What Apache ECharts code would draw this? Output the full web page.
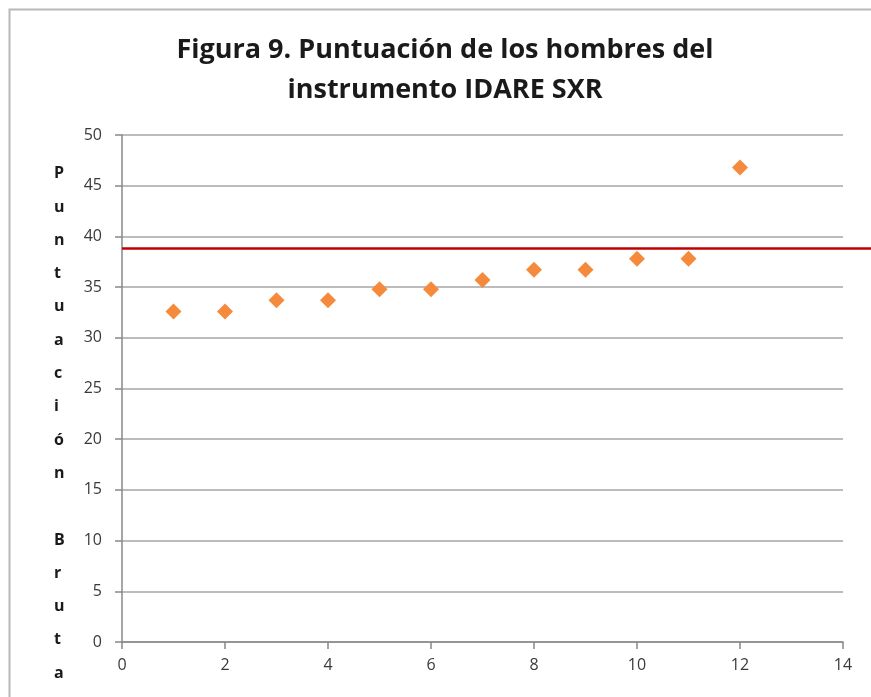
<!DOCTYPE html>
<html><head><meta charset="utf-8">
<script src="https://cdn.jsdelivr.net/npm/echarts@6/dist/echarts.min.js"></script>
<style>html,body{margin:0;padding:0;background:#fff}#c{width:871px;height:697px}</style>
</head><body><div id="c"></div>
<script>
const titleLines = ['Figura 9. Puntuación de los hombres del', 'instrumento IDARE SXR'];
const yAxisTitle = 'Puntuación Bruta';
const xValues = [1, 2, 3, 4, 5, 6, 7, 8, 9, 10, 11, 12];
const yValues = [32.6, 32.6, 33.7, 33.7, 34.8, 34.8, 35.7, 36.7, 36.7, 37.8, 37.8, 46.8];
const referenceValue = 38.8;

const chart = echarts.init(document.getElementById('c'), null, {renderer: 'canvas'});
const font = 'Open Sans';
const labelColor = '#3a3a3a';
chart.setOption({
  animation: false,
  backgroundColor: '#fff',
  graphic: [
    {type: 'rect', left: 7, top: 7, shape: {width: 900, height: 720}, style: {fill: 'none', stroke: '#b8b8b8', lineWidth: 2}},
    {type: 'text', x: 445, y: 30, style: {text: titleLines.join('\n'), align: 'center', verticalAlign: 'top',
      fontFamily: font, fontWeight: 'bold', fontSize: 27, lineHeight: 40, fill: '#1a1a1a'}}
  ],
  title: [
    {text: yAxisTitle.split('').join('\n'), left: 49, top: 152,
     textStyle: {fontFamily: font, fontWeight: 'bold', fontSize: 16, lineHeight: 33.3, color: '#1a1a1a'}}
  ],
  grid: [
    {left: 122, right: 28, top: 135, bottom: 55},
    {left: 122, right: 0, top: 135, bottom: 55}
  ],
  xAxis: [
    {type: 'value', gridIndex: 0, min: 0, max: 14, interval: 2,
     axisLine: {show: true, lineStyle: {color: '#888', width: 1.5}},
     axisTick: {show: true, length: 7, lineStyle: {color: '#888', width: 1.5}},
     axisLabel: {fontFamily: font, fontSize: 16, color: labelColor, margin: 15},
     splitLine: {show: false}},
    {type: 'value', gridIndex: 1, min: 0, max: 1, show: false}
  ],
  yAxis: [
    {type: 'value', gridIndex: 0, min: 0, max: 50, interval: 5,
     axisLine: {show: true, lineStyle: {color: '#888', width: 1.5}},
     axisTick: {show: true, length: 7, lineStyle: {color: '#888', width: 1.5}},
     axisLabel: {fontFamily: font, fontSize: 16, color: labelColor, margin: 20},
     splitLine: {show: true, lineStyle: {color: '#a6a6a6', width: 1.5}}},
    {type: 'value', gridIndex: 1, min: 0, max: 50, show: false}
  ],
  series: [
    {type: 'line', xAxisIndex: 1, yAxisIndex: 1, data: [[0, referenceValue], [1, referenceValue]],
     symbol: 'none', lineStyle: {color: '#c00000', width: 2.5}, z: 3},
    {type: 'scatter', xAxisIndex: 0, yAxisIndex: 0,
     data: xValues.map((x, i) => [x, yValues[i]]),
     symbol: 'diamond', symbolSize: 16, itemStyle: {color: '#f58a3c', opacity: 1}, z: 4}
  ]
});
</script></body></html>
